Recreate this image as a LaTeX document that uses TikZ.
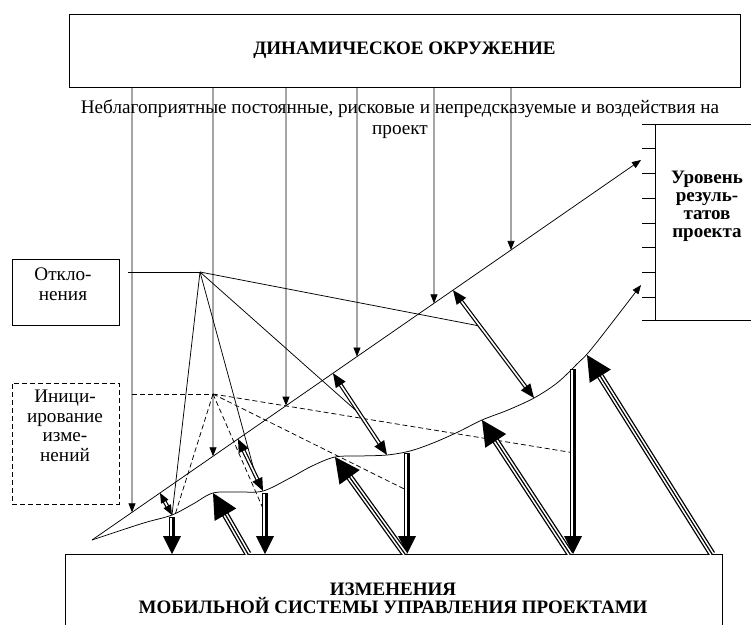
\documentclass[tikz,border=0pt]{standalone}
\usepackage{fontspec}
\setmainfont{Liberation Serif}
\usetikzlibrary{arrows.meta,calc}
\newcommand\arrhead[4]{\fill ($(#2)!#3!(#1)!#4!90:(#1)$) -- (#2) -- ($(#2)!#3!(#1)!#4!-90:(#1)$) -- cycle;}
\newcommand\vchange[2]{%
  \draw[line width=5.5pt] (#1) -- ($(#2)+(0,-14)$);
  \draw[white, line width=1.6pt] ($(#1)+(-1,1)$) -- ($(#2)+(-1,-14)$);
  \arrhead{#1}{#2}{18pt}{9pt}}
\newcommand\dchange[2]{%
  \begin{scope}
  \clip (0,0) rectangle (751,554);
  \draw[line width=7pt] (#1) -- ($(#2)!20pt!(#1)$);
  \draw[white, line width=4.4pt] (#1) -- ($(#2)!20pt!(#1)$);
  \draw[line width=1.2pt] (#1) -- ($(#2)!20pt!(#1)$);
  \end{scope}
  \arrhead{#1}{#2}{25pt}{12.5pt}}
\newcommand\sdev[3]{%
  \draw[line width=4pt] ($(#1)!#3-3pt!(#2)$) -- ($(#2)!#3-3pt!(#1)$);
  \draw[white, line width=1.6pt] ($(#1)!#3-4pt!(#2)$) -- ($(#2)!#3-4pt!(#1)$);
  \arrhead{#2}{#1}{#3}{0.42*#3}
  \arrhead{#1}{#2}{#3}{0.42*#3}}
\begin{document}
\begin{tikzpicture}[x=1pt,y=-1pt,
  box/.style={draw, line width=1pt},
  thin/.style={line width=0.75pt},
  thinarrow/.style={line width=0.75pt, -{Triangle[length=9pt,width=7pt]}},
  dsh/.style={line width=0.75pt, dash pattern=on 5pt off 3pt},
  txt/.style={font=\fontsize{19.2}{19.5}\selectfont, align=center, inner sep=0pt},
  btxt/.style={font=\fontsize{19}{18}\selectfont\bfseries, align=center, inner sep=0pt},
]
\useasboundingbox (0,0) rectangle (751,624);
\clip (0,0) rectangle (751,624);

% boxes
\node[box, btxt, minimum width=671pt, minimum height=73pt] (env) at (404.5,50.5) {ДИНАМИЧЕСКОЕ ОКРУЖЕНИЕ};
\node[txt, font=\fontsize{19.2}{21}\selectfont] (sub) at (400,119) {Неблагоприятные постоянные, рисковые и непредсказуемые и воздействия на\\проект};
\node[box, minimum width=107pt, minimum height=66pt] (otk) at (65.5,292) {};
\node[txt] (otkt) at (63,284) {Откло-\\нения};
\node[box, dsh, line width=1pt, minimum width=107pt, minimum height=121pt] (ini) at (65.5,443.5) {};
\node[txt] (init) at (65,426) {Иници-\\ирование\\изме-\\нений};
\node[box, minimum width=657pt, minimum height=100pt, anchor=north west] (chg) at (65,554) {};
\node[btxt] (chgt) at (393,598) {ИЗМЕНЕНИЯ\\МОБИЛЬНОЙ СИСТЕМЫ УПРАВЛЕНИЯ ПРОЕКТАМИ};
% result level ruler
\coordinate (rt) at (655,124);
\coordinate (rb) at (655,320);
\draw[box] (642,124) -- (760,124);
\draw[box] (rt) -- (rb);
\draw[box] (642,320) -- (760,320);
\foreach \y in {148,173,198,223,247,272,297} \draw[box] (642,\y) -- (655,\y);
\node[btxt] (lvl) at (707,206.5) {Уровень\\резуль-\\татов\\проекта};

% planned (straight) line and actual (curve)
\coordinate (d0) at (92,540);
\coordinate (d1) at (641,160);
\draw[thinarrow] (d0) -- (d1);
\draw[thin, -{Triangle[length=9pt,width=7pt]}] plot[smooth, tension=0.55] coordinates {(92,540) (125,529) (147,522) (172,515) (193,504) (213,493) (238,492) (263,491) (290,478) (312,466) (335,457) (360,456) (387,455) (410,451) (433,443) (458,432) (482,420) (508,410) (534,398) (557,383) (577,364) (593,347) (641,285)};

% environment impacts
\foreach \x in {132,213,286,357,434,511}
  \draw[thinarrow] (\x,0 |- env.south) -- ($(d0)!{(\x-92)/549}!(d1)$);

% deviation arrows between plan and actual
\coordinate (s1a) at ($(d0)!{(160-92)/549}!(d1)$);
\coordinate (s1b) at (172,515);
\coordinate (s2a) at ($(d0)!{(238-92)/549}!(d1)$);
\coordinate (s2b) at (263,491);
\coordinate (s3a) at ($(d0)!{(333-92)/549}!(d1)$);
\coordinate (s3b) at (387,455);
\coordinate (s4a) at ($(d0)!{(453-92)/549}!(d1)$);
\coordinate (s4b) at (534,398);

% deviations hub
\coordinate (otkl) at (128,272);
\coordinate (hub) at (200,272);
\draw[thin] (otkl) -- (hub);
\draw[thin] (hub) -- (s1b);
\draw[thin] (hub) -- ($(s2a)!0.7!(s2b)$);
\draw[thin] (hub) -- ($(s3a)!0.5!(s3b)$);
\draw[thin] (hub) -- ($(s4a)!0.333!(s4b)$);

% change arrows (vertical)
\coordinate (a1t) at (172,517);
\coordinate (a1b) at (172,554);
\coordinate (a2t) at (265,493);
\coordinate (a2b) at (265,554);
\coordinate (a3t) at (407,453);
\coordinate (a3b) at (407,554);
\coordinate (a4t) at (573,369);
\coordinate (a4b) at (573,554);

% initiation hub (dashed)
\coordinate (inil) at (132,394);
\coordinate (dhub) at (213,394);
\draw[dsh] (inil) -- (dhub);
\draw[dsh] (dhub) -- (175,515);
\draw[dsh] (dhub) -- ($(a2t)!0.33!(a2b)$);
\draw[dsh] (dhub) -- ($(a3t)!0.37!(a3b)$);
\draw[dsh] (dhub) -- ($(a4t)!0.45!(a4b)+(-3,0)$);

\sdev{s1a}{s1b}{10pt}
\sdev{s2a}{s2b}{13pt}
\sdev{s3a}{s3b}{14pt}
\sdev{s4a}{s4b}{14pt}

\vchange{a1t}{a1b}
\vchange{a2t}{a2b}
\vchange{a3t}{a3b}
\vchange{a4t}{a4b}

% change arrows (diagonal, from changes to actual)
\coordinate (e1) at (248,554);
\coordinate (e2) at (405,554);
\coordinate (e3) at (570,554);
\coordinate (e4) at (712,554);
\coordinate (f1) at (213,493);
\coordinate (f2) at (335,457);
\coordinate (f3) at (482,420);
\coordinate (f4) at (587,355);
\dchange{e1}{f1}
\dchange{e2}{f2}
\dchange{e3}{f3}
\dchange{e4}{f4}
\end{tikzpicture}
\end{document}
